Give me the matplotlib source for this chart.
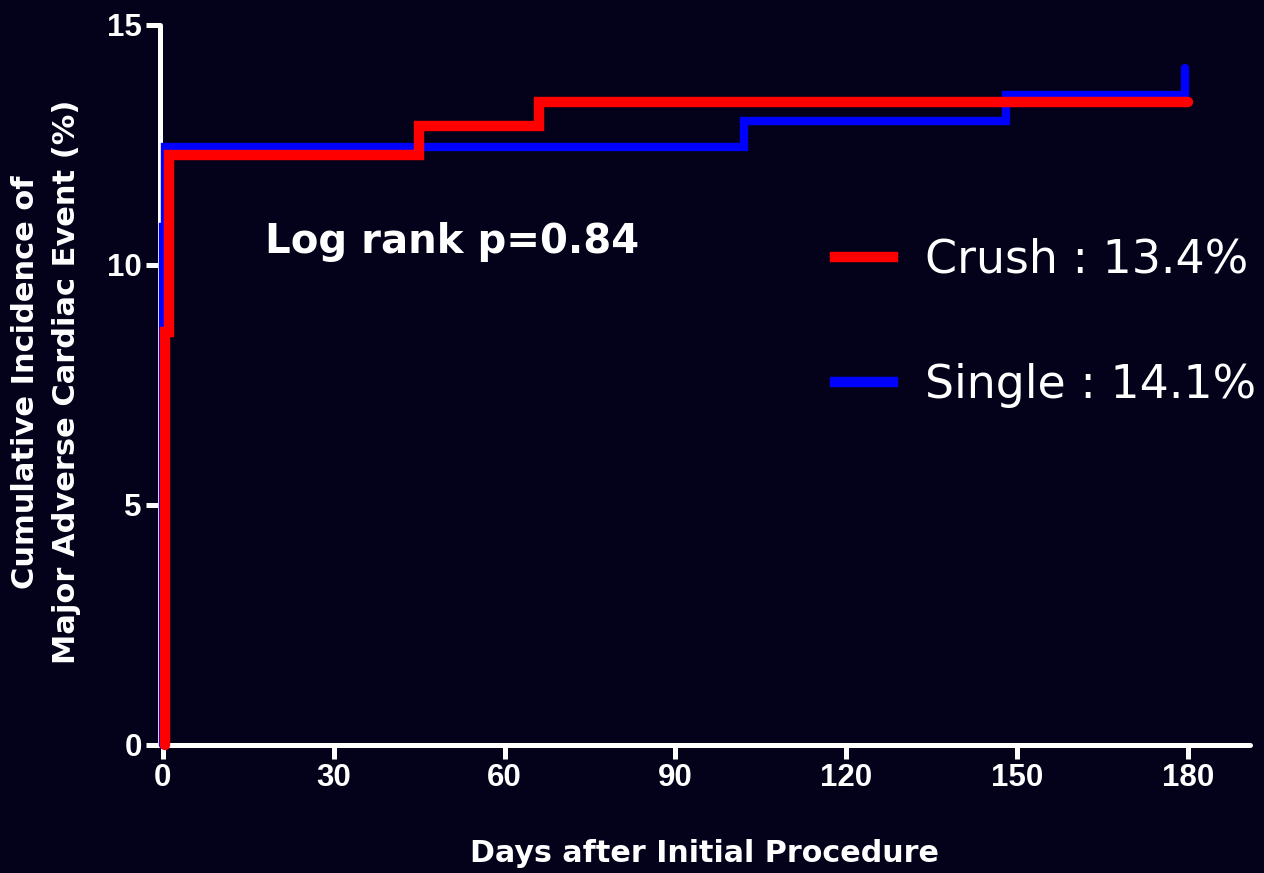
import matplotlib.pyplot as plt
from matplotlib.lines import Line2D
from matplotlib import font_manager as fm

plt.rcParams['font.family'] = ['DejaVu Sans']

# tick labels look like Arial bold -> regular-width Liberation Sans Bold
bold_file = None
for f in fm.findSystemFonts():
    if f.endswith('LiberationSans-Bold.ttf'):
        bold_file = f
if bold_file:
    tick_font = fm.FontProperties(fname=bold_file, size=22.5)
else:
    tick_font = fm.FontProperties(family='DejaVu Sans', weight='bold', size=20)

bg = '#03021a'

# step data (days, cumulative incidence %)
crush_days = [0.3, 0.3, 1.1, 45, 66, 180]
crush_pct = [0, 8.6, 12.3, 12.9, 13.4, 13.4]
single_days = [0, 0, 0.4, 102, 148, 179.5]
single_pct = [0, 10.8, 12.45, 13.0, 13.55, 14.1]

x_ticks = [0, 30, 60, 90, 120, 150, 180]
y_ticks = [0, 5, 10, 15]

fig = plt.figure(figsize=(12.64, 8.73), dpi=100, facecolor=bg)
ax = fig.add_axes([160 / 1264, 128 / 873, 1090 / 1264, 720 / 873])
ax.set_facecolor(bg)

ax.plot(single_days, single_pct, drawstyle='steps-post', color='#0000ff',
        lw=6, solid_capstyle='round', solid_joinstyle='miter', clip_on=False, zorder=3)
ax.plot(crush_days, crush_pct, drawstyle='steps-post', color='#ff0000',
        lw=7.5, solid_capstyle='round', solid_joinstyle='miter', clip_on=False, zorder=4)

ax.set_xlim(-0.5, 190.9)
ax.set_ylim(0, 15)
ax.set_xticks(x_ticks)
ax.set_yticks(y_ticks)

for s in ['top', 'right']:
    ax.spines[s].set_visible(False)
for s in ['left', 'bottom']:
    ax.spines[s].set_color('white')
    ax.spines[s].set_linewidth(3.6)
    ax.spines[s].set_capstyle('round')

ax.tick_params(axis='both', colors='white', width=3.6, length=10, direction='out', pad=3)
for lab in ax.get_xticklabels() + ax.get_yticklabels():
    lab.set_fontproperties(tick_font)
    lab.set_color('white')

fig.text(265 / 1264, 1 - 253 / 873, 'Log rank p=0.84', color='white',
         fontsize=29, fontweight='bold', va='baseline', ha='left')

fig.text(46 / 1264, 1 - 382 / 873,
         'Cumulative Incidence of\nMajor Adverse Cardiac Event (%)',
         rotation=90, color='white', fontsize=22, fontweight='bold',
         ha='center', va='center', multialignment='center', linespacing=1.5)

fig.text(704 / 1264, 1 - 853 / 873, 'Days after Initial Procedure', color='white',
         fontsize=21.7, fontweight='bold', ha='center', va='center')

handles = [Line2D([], [], color='#ff0000', lw=7.5),
           Line2D([], [], color='#0000ff', lw=7.5)]
leg = ax.legend(handles, ['Crush : 13.4%', 'Single : 14.1%'],
                loc='center left', bbox_to_anchor=(835 / 1264, 1 - 323 / 873),
                bbox_transform=fig.transFigure, frameon=False, fontsize=33,
                handlelength=1.27, handletextpad=0.7, labelspacing=1.75,
                borderpad=0, borderaxespad=0)
for t in leg.get_texts():
    t.set_color('white')

fig.savefig('out.png', dpi=100, facecolor=bg)
